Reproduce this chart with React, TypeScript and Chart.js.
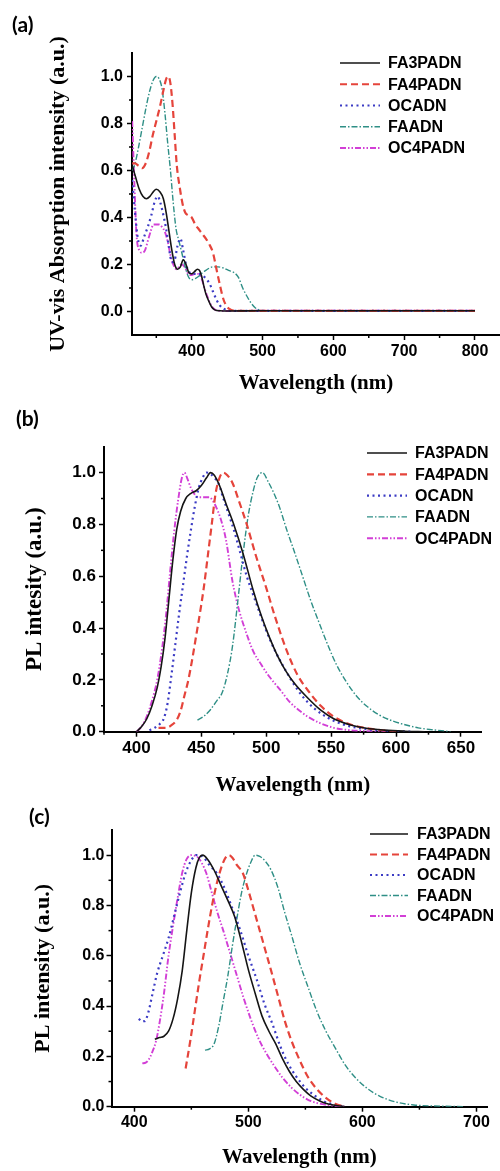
import { useEffect, useRef } from "react";
import { Chart, registerables } from "chart.js";

Chart.register(...registerables);

// ---------- series names & styles ----------
const SERIES = ["FA3PADN", "FA4PADN", "OCADN", "FAADN", "OC4PADN"];
const COLORS = ["#151515", "#e5443b", "#3b3bc4", "#2f8f86", "#d23fd6"];
const WIDTHS = [1.6, 2.2, 2.2, 1.4, 1.9];
const DASHES: number[][] = [[], [7, 4], [2, 3.5], [6, 2, 1.5, 2], [6, 2, 1.5, 2, 1.5, 2]];

// ---------- panel (a): UV-vis absorption ----------
const A_FA3PADN_X = [316, 320, 326, 331, 336, 341, 346, 350, 355, 360, 364, 368, 372, 376, 380, 384, 388, 392, 396, 400, 404, 408, 411, 414, 417, 420, 424, 428, 432, 436, 440, 450, 500, 600, 700, 800];
const A_FA3PADN_Y = [0.62, 0.58, 0.52, 0.49, 0.48, 0.49, 0.51, 0.52, 0.51, 0.48, 0.42, 0.34, 0.26, 0.2, 0.18, 0.19, 0.22, 0.2, 0.165, 0.16, 0.17, 0.18, 0.175, 0.15, 0.11, 0.075, 0.045, 0.02, 0.008, 0.004, 0.003, 0.002, 0.003, 0.003, 0.003, 0.003];
const A_FA4PADN_X = [316, 320, 325, 330, 335, 340, 345, 350, 355, 360, 364, 367, 370, 373, 376, 379, 383, 387, 391, 395, 400, 405, 410, 415, 420, 425, 430, 435, 440, 445, 450, 455, 460, 470, 500, 600, 700, 800];
const A_FA4PADN_Y = [0.63, 0.63, 0.62, 0.61, 0.63, 0.68, 0.75, 0.81, 0.87, 0.94, 0.99, 1.0, 0.97, 0.88, 0.75, 0.62, 0.53, 0.46, 0.42, 0.41, 0.4, 0.37, 0.35, 0.33, 0.31, 0.285, 0.25, 0.18, 0.11, 0.05, 0.02, 0.008, 0.004, 0.003, 0.003, 0.003, 0.003, 0.003];
const A_OCADN_X = [316, 320, 324, 328, 333, 338, 343, 348, 352, 356, 360, 364, 368, 372, 376, 380, 384, 388, 392, 396, 400, 405, 410, 415, 420, 425, 430, 435, 440, 445, 450, 460, 500, 600, 700, 800];
const A_OCADN_Y = [0.56, 0.42, 0.31, 0.28, 0.32, 0.36, 0.41, 0.47, 0.49, 0.46, 0.41, 0.35, 0.27, 0.21, 0.22, 0.28, 0.31, 0.26, 0.2, 0.17, 0.16, 0.16, 0.16, 0.155, 0.14, 0.12, 0.085, 0.05, 0.025, 0.012, 0.005, 0.003, 0.003, 0.003, 0.003, 0.003];
const A_FAADN_X = [316, 320, 325, 330, 335, 340, 345, 350, 354, 358, 362, 366, 370, 374, 378, 382, 386, 390, 395, 400, 405, 410, 415, 420, 425, 430, 437, 445, 452, 460, 466, 472, 478, 484, 490, 496, 505, 600, 700, 800];
const A_FAADN_Y = [0.6, 0.63, 0.7, 0.78, 0.86, 0.93, 0.98, 1.0, 0.99, 0.95, 0.85, 0.72, 0.6, 0.46, 0.35, 0.3, 0.25, 0.2, 0.15, 0.135, 0.14, 0.15, 0.165, 0.175, 0.185, 0.19, 0.19, 0.185, 0.175, 0.165, 0.145, 0.1, 0.065, 0.035, 0.015, 0.006, 0.003, 0.003, 0.003, 0.003];
const A_OC4PADN_X = [316, 319, 322, 326, 330, 334, 338, 342, 346, 350, 354, 358, 362, 366, 370, 374, 378, 382, 386, 390, 395, 400, 405, 410, 414, 418, 422, 426, 430, 434, 440, 450, 500, 600, 700, 800];
const A_OC4PADN_Y = [0.81, 0.55, 0.33, 0.26, 0.25, 0.26, 0.3, 0.34, 0.37, 0.37, 0.37, 0.36, 0.34, 0.3, 0.24, 0.2, 0.18, 0.19, 0.2, 0.19, 0.16, 0.155, 0.16, 0.16, 0.14, 0.1, 0.065, 0.035, 0.015, 0.006, 0.003, 0.002, 0.003, 0.003, 0.003, 0.003];

// ---------- panel (b): PL in solution ----------
const B_FA3PADN_X = [400, 404, 408, 412, 416, 419, 422, 425, 428, 431, 434, 438, 442, 446, 450, 454, 457, 460, 464, 469, 475, 482, 490, 496, 502, 509, 515, 522, 532, 542, 552, 565, 577, 591, 607, 622];
const B_FA3PADN_Y = [0, 0.02, 0.05, 0.1, 0.17, 0.25, 0.36, 0.51, 0.66, 0.78, 0.85, 0.9, 0.92, 0.93, 0.95, 0.98, 1.0, 0.99, 0.95, 0.88, 0.8, 0.69, 0.545, 0.45, 0.37, 0.29, 0.235, 0.185, 0.13, 0.083, 0.05, 0.026, 0.013, 0.006, 0.002, 0];
const B_FA4PADN_X = [417, 423, 427, 431, 434, 437, 440, 443, 446, 449, 452, 455, 458, 461, 464, 467, 470, 474, 479, 485, 492, 500, 507, 516, 524, 532, 542, 552, 565, 578, 592, 602];
const B_FA4PADN_Y = [0.015, 0.015, 0.025, 0.045, 0.08, 0.14, 0.2, 0.28, 0.37, 0.46, 0.56, 0.68, 0.8, 0.92, 0.98, 1.0, 0.99, 0.96, 0.89, 0.8, 0.68, 0.555, 0.44, 0.31, 0.22, 0.16, 0.1, 0.058, 0.028, 0.013, 0.004, 0];
const B_OCADN_X = [410, 414, 418, 421, 424, 427, 430, 433, 436, 439, 442, 445, 448, 451, 454, 457, 460, 463, 467, 471, 475, 480, 485, 492, 500, 507, 514, 521, 529, 537, 547, 557, 567, 582, 597, 612];
const B_OCADN_Y = [0.006, 0.015, 0.03, 0.05, 0.11, 0.22, 0.34, 0.46, 0.57, 0.68, 0.78, 0.87, 0.94, 0.98, 1.0, 0.995, 0.98, 0.96, 0.9, 0.84, 0.78, 0.69, 0.6, 0.5, 0.39, 0.31, 0.245, 0.185, 0.13, 0.09, 0.055, 0.032, 0.018, 0.007, 0.002, 0];
const B_FAADN_X = [447, 452, 457, 462, 466, 470, 474, 478, 482, 486, 490, 493, 497, 502, 505, 510, 516, 522, 528, 534, 540, 547, 554, 562, 570, 578, 587, 597, 607, 617, 627, 637, 642];
const B_FAADN_Y = [0.045, 0.06, 0.085, 0.12, 0.15, 0.22, 0.33, 0.5, 0.68, 0.83, 0.93, 0.98, 1.0, 0.96, 0.93, 0.87, 0.776, 0.69, 0.6, 0.51, 0.43, 0.34, 0.26, 0.19, 0.135, 0.096, 0.065, 0.042, 0.027, 0.015, 0.008, 0.003, 0];
const B_OC4PADN_X = [400, 404, 408, 412, 416, 420, 423, 426, 429, 432, 435, 437, 439, 442, 445, 448, 452, 456, 459, 462, 465, 469, 474, 479, 484, 490, 496, 502, 511, 518, 526, 532, 542, 552, 562, 577, 592];
const B_OC4PADN_Y = [0, 0.02, 0.06, 0.12, 0.2, 0.33, 0.46, 0.62, 0.77, 0.89, 0.98, 1.0, 0.98, 0.94, 0.915, 0.905, 0.905, 0.905, 0.89, 0.86, 0.82, 0.74, 0.58, 0.47, 0.39, 0.31, 0.26, 0.215, 0.16, 0.115, 0.08, 0.058, 0.032, 0.015, 0.007, 0.002, 0];

// ---------- panel (c): PL in film ----------
const C_FA3PADN_X = [418, 422, 426, 430, 434, 438, 442, 446, 450, 454, 457, 460, 464, 470, 476, 482, 488, 494, 500, 506, 512, 518, 524, 530, 536, 542, 548, 555, 563, 570, 578, 585];
const C_FA3PADN_Y = [0.268, 0.275, 0.28, 0.3, 0.35, 0.43, 0.54, 0.7, 0.85, 0.95, 0.99, 1.0, 0.985, 0.94, 0.88, 0.82, 0.755, 0.655, 0.545, 0.45, 0.36, 0.3, 0.25, 0.19, 0.14, 0.1, 0.07, 0.042, 0.022, 0.011, 0.004, 0];
const C_FA4PADN_X = [445, 449, 453, 457, 461, 465, 469, 473, 477, 480, 483, 486, 490, 495, 500, 505, 510, 515, 520, 526, 532, 538, 545, 552, 560, 568, 576, 585];
const C_FA4PADN_Y = [0.152, 0.26, 0.38, 0.5, 0.61, 0.72, 0.82, 0.9, 0.96, 0.99, 1.0, 0.99, 0.96, 0.93, 0.86, 0.78, 0.7, 0.62, 0.54, 0.44, 0.34, 0.26, 0.185, 0.12, 0.07, 0.035, 0.012, 0];
const C_OCADN_X = [404, 406, 409, 412, 416, 420, 425, 430, 435, 440, 445, 450, 454, 457, 461, 466, 472, 478, 485, 493, 500, 507, 514, 521, 528, 535, 542, 550, 558, 566, 575, 585];
const C_OCADN_Y = [0.35, 0.34, 0.34, 0.37, 0.45, 0.53, 0.6, 0.67, 0.76, 0.85, 0.93, 0.98, 1.0, 1.0, 0.99, 0.96, 0.93, 0.88, 0.8, 0.7, 0.6, 0.51, 0.41, 0.33, 0.24, 0.17, 0.12, 0.075, 0.045, 0.022, 0.008, 0];
const C_FAADN_X = [462, 466, 470, 474, 478, 482, 486, 490, 494, 498, 502, 506, 510, 515, 520, 526, 532, 538, 545, 552, 560, 568, 576, 585, 595, 605, 615, 630, 645, 660, 680, 690];
const C_FAADN_Y = [0.225, 0.23, 0.25, 0.32, 0.42, 0.52, 0.64, 0.75, 0.85, 0.92, 0.97, 1.0, 0.995, 0.975, 0.94, 0.87, 0.77, 0.68, 0.57, 0.48, 0.38, 0.3, 0.235, 0.165, 0.11, 0.07, 0.042, 0.018, 0.007, 0.003, 0.001, 0];
const C_OC4PADN_X = [407, 410, 413, 416, 419, 422, 426, 430, 434, 438, 442, 446, 450, 453, 456, 459, 463, 468, 473, 478, 484, 490, 496, 502, 509, 516, 523, 530, 538, 546, 555, 565, 575, 585];
const C_OC4PADN_Y = [0.172, 0.175, 0.19, 0.22, 0.26, 0.33, 0.45, 0.6, 0.72, 0.83, 0.93, 0.985, 1.0, 0.998, 0.99, 0.97, 0.93, 0.85, 0.77, 0.7, 0.61, 0.52, 0.43, 0.35, 0.27, 0.21, 0.16, 0.115, 0.075, 0.045, 0.022, 0.01, 0.003, 0];

// ---------- ticks ----------
const A_X_TICKS = [400, 500, 600, 700, 800];
const A_X_MINOR = [350, 450, 550, 650, 750];
const B_X_TICKS = [400, 450, 500, 550, 600, 650];
const B_X_MINOR = [375, 425, 475, 525, 575, 625];
const C_X_TICKS = [400, 500, 600, 700];
const C_X_MINOR = [450, 550, 650];
const Y_TICKS = [0, 0.2, 0.4, 0.6, 0.8, 1.0];
const Y_MINOR = [0.1, 0.3, 0.5, 0.7, 0.9];

type Panel = {
  top: number; height: number;
  left: number; chartTop: number; right: number; bottom: number;
  xMin: number; xMax: number; yMin: number; yMax: number;
  xTicks: number[]; xMinor: number[];
  xs: number[][]; ys: number[][];
  yTitle: string; yTitleX: number; yTitleSize: number;
  xTitleY: number; tickSize: number; yTickPad: number; xTickPad: number;
  label: string; labelX: number; labelY: number;
  legX0: number; legX1: number; legTX: number; legY0: number; legGap: number;
};

const PANELS: Panel[] = [
  {
    top: 0, height: 400, left: 132, chartTop: 53, right: 500, bottom: 335,
    xMin: 315.7, xMax: 835.3, yMin: -0.1, yMax: 1.1,
    xTicks: A_X_TICKS, xMinor: A_X_MINOR,
    xs: [A_FA3PADN_X, A_FA4PADN_X, A_OCADN_X, A_FAADN_X, A_OC4PADN_X],
    ys: [A_FA3PADN_Y, A_FA4PADN_Y, A_OCADN_Y, A_FAADN_Y, A_OC4PADN_Y],
    yTitle: "UV-vis Absorption intensity (a.u.)", yTitleX: 58, yTitleSize: 22,
    xTitleY: 384, tickSize: 16, yTickPad: 4, xTickPad: 2,
    label: "(a)", labelX: 12, labelY: 25,
    legX0: 340, legX1: 380, legTX: 388, legY0: 63, legGap: 21.25,
  },
  {
    top: 390, height: 410, left: 104, chartTop: 446.7, right: 481.7, bottom: 731.7,
    xMin: 375, xMax: 666, yMin: 0, yMax: 1.1,
    xTicks: B_X_TICKS, xMinor: B_X_MINOR,
    xs: [B_FA3PADN_X, B_FA4PADN_X, B_OCADN_X, B_FAADN_X, B_OC4PADN_X],
    ys: [B_FA3PADN_Y, B_FA4PADN_Y, B_OCADN_Y, B_FAADN_Y, B_OC4PADN_Y],
    yTitle: "PL intesity (a.u.)", yTitleX: 35, yTitleSize: 23,
    xTitleY: 786, tickSize: 17, yTickPad: 3, xTickPad: 1,
    label: "(b)", labelX: 16, labelY: 419,
    legX0: 367, legX1: 407, legTX: 415, legY0: 453, legGap: 21.3,
  },
  {
    top: 795, height: 376, left: 111.5, chartTop: 830, right: 487.3, bottom: 1106.7,
    xMin: 380, xMax: 709.5, yMin: 0, yMax: 1.1,
    xTicks: C_X_TICKS, xMinor: C_X_MINOR,
    xs: [C_FA3PADN_X, C_FA4PADN_X, C_OCADN_X, C_FAADN_X, C_OC4PADN_X],
    ys: [C_FA3PADN_Y, C_FA4PADN_Y, C_OCADN_Y, C_FAADN_Y, C_OC4PADN_Y],
    yTitle: "PL intensity (a.u.)", yTitleX: 43, yTitleSize: 22,
    xTitleY: 1158, tickSize: 16, yTickPad: 2, xTickPad: 1.5,
    label: "(c)", labelX: 29, labelY: 817,
    legX0: 370, legX1: 408, legTX: 417, legY0: 834, legGap: 20.5,
  },
];

const overlayPlugin = {
  id: "overlay",
  afterDraw(chart: any, _args: any, opts: any) {
    const { ctx, chartArea } = chart;
    const xs = chart.scales.x;
    const ys = chart.scales.y;
    ctx.save();
    ctx.strokeStyle = "#000";
    ctx.lineWidth = 1.5;
    ctx.setLineDash([]);
    for (const v of opts.xMinor) {
      const px = xs.getPixelForValue(v);
      ctx.beginPath();
      ctx.moveTo(px, chartArea.bottom);
      ctx.lineTo(px, chartArea.bottom + 3);
      ctx.stroke();
    }
    for (const v of opts.yMinor) {
      const py = ys.getPixelForValue(v);
      ctx.beginPath();
      ctx.moveTo(chartArea.left, py);
      ctx.lineTo(chartArea.left - 3, py);
      ctx.stroke();
    }
    // legend
    ctx.font = 'bold 16px "Liberation Sans", Arial, sans-serif';
    ctx.textBaseline = "middle";
    ctx.textAlign = "left";
    chart.data.datasets.forEach((ds: any, i: number) => {
      const y = opts.legY0 + i * opts.legGap;
      ctx.strokeStyle = ds.borderColor;
      ctx.lineWidth = ds.borderWidth;
      ctx.setLineDash(ds.borderDash || []);
      ctx.beginPath();
      ctx.moveTo(opts.legX0, y);
      ctx.lineTo(opts.legX1, y);
      ctx.stroke();
      ctx.fillStyle = "#000";
      ctx.fillText(ds.label, opts.legTX, y + 1);
    });
    // panel label
    ctx.font = "bold 21px Lato, sans-serif";
    ctx.fillStyle = "#000";
    ctx.fillText(opts.label, opts.labelX, opts.labelY);
    ctx.restore();
  },
};

function makeConfig(p: Panel): any {
  const tickFont = { family: '"Liberation Sans", Arial, sans-serif', weight: "bold", size: p.tickSize };
  const titleFont = (size: number) => ({ family: '"Liberation Serif", "Times New Roman", serif', weight: "bold", size, lineHeight: 1.2 });
  return {
    type: "line",
    data: {
      datasets: SERIES.map((name, i) => ({
        label: name,
        data: p.xs[i].map((x, j) => ({ x, y: p.ys[i][j] })),
        borderColor: COLORS[i],
        borderWidth: WIDTHS[i],
        borderDash: DASHES[i],
        pointRadius: 0,
        fill: false,
        cubicInterpolationMode: "monotone",
      })),
    },
    options: {
      responsive: false,
      animation: false,
      devicePixelRatio: 1,
      events: [],
      layout: { padding: { top: p.chartTop - p.top, left: 0, right: 500 - p.right, bottom: 0 }, autoPadding: false },
      plugins: {
        legend: { display: false },
        tooltip: { enabled: false },
        overlay: {
          xMinor: p.xMinor, yMinor: Y_MINOR,
          legX0: p.legX0, legX1: p.legX1, legTX: p.legTX,
          legY0: p.legY0 - p.top, legGap: p.legGap,
          label: p.label, labelX: p.labelX, labelY: p.labelY - p.top,
        },
      },
      scales: {
        x: {
          type: "linear",
          min: p.xMin,
          max: p.xMax,
          afterBuildTicks: (s: any) => { s.ticks = p.xTicks.map((v) => ({ value: v })); },
          afterFit: (s: any) => { s.height = p.top + p.height - p.bottom; },
          ticks: { font: tickFont, color: "#000", padding: p.xTickPad, autoSkip: false, maxRotation: 0, callback: (v: any) => String(v) },
          grid: { drawOnChartArea: false, drawTicks: true, tickLength: 5, tickWidth: 1.5, tickColor: "#000" },
          border: { display: true, color: "#000", width: 2 },
          title: {
            display: true, text: "Wavelength (nm)", color: "#000", font: titleFont(21),
            padding: { top: 0, bottom: (p.top + p.height - p.xTitleY) - 12.6 },
          },
        },
        y: {
          type: "linear",
          min: p.yMin,
          max: p.yMax,
          afterBuildTicks: (s: any) => { s.ticks = Y_TICKS.map((v) => ({ value: v })); },
          afterFit: (s: any) => { s.width = p.left; },
          ticks: { font: tickFont, color: "#000", padding: p.yTickPad, autoSkip: false, callback: (v: any) => Number(v).toFixed(1) },
          grid: { drawOnChartArea: false, drawTicks: true, tickLength: 5, tickWidth: 1.5, tickColor: "#000" },
          border: { display: true, color: "#000", width: 2 },
          title: {
            display: true, text: p.yTitle, color: "#000", font: titleFont(p.yTitleSize),
            padding: { top: p.yTitleX - (p.yTitleSize * 1.2) / 2, bottom: 0 },
          },
        },
      },
    },
    plugins: [overlayPlugin],
  };
}

function PanelChart({ p }: { p: Panel }) {
  const ref = useRef<HTMLCanvasElement>(null);
  useEffect(() => {
    const chart = new Chart(ref.current as HTMLCanvasElement, makeConfig(p));
    return () => chart.destroy();
  }, [p]);
  return (
    <canvas
      ref={ref}
      width={500}
      height={p.height}
      style={{ position: "absolute", left: 0, top: p.top, width: 500, height: p.height }}
    />
  );
}

export default function App() {
  return (
    <div style={{ position: "absolute", left: 0, top: 0, width: 500, height: 1171, overflow: "hidden", background: "#fff" }}>
      {PANELS.map((p) => (
        <PanelChart key={p.label} p={p} />
      ))}
    </div>
  );
}
